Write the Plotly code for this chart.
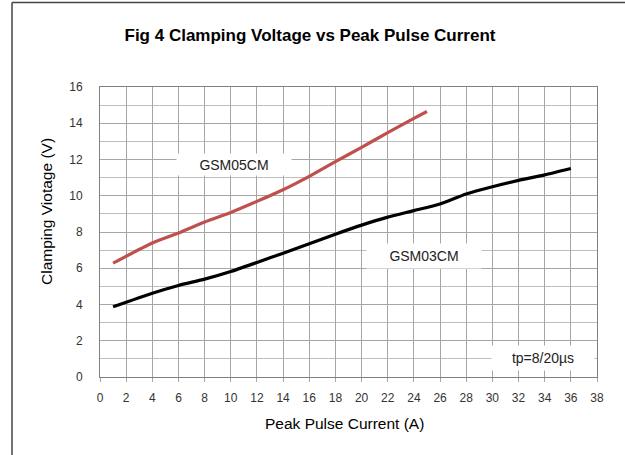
import plotly.graph_objects as go

# Data
gsm03_x = [1, 4, 6, 8, 10, 12, 14, 16, 18, 20, 22, 24, 26, 28, 30, 32, 34, 36]
gsm03_y = [3.87, 4.62, 5.05, 5.4, 5.82, 6.32, 6.83, 7.35, 7.88, 8.38, 8.82, 9.18, 9.55, 10.1, 10.5, 10.85, 11.15, 11.5]

gsm05_x = [1, 4, 6, 8, 10, 12, 14, 16, 18, 20, 22, 24, 25]
gsm05_y = [6.28, 7.39, 7.94, 8.55, 9.08, 9.69, 10.33, 11.07, 11.88, 12.67, 13.48, 14.27, 14.65]

x_ticks = list(range(0, 39, 2))
y_ticks = list(range(0, 17, 2))

FONT = "Liberation Sans, Arial, sans-serif"

fig = go.Figure()
fig.add_trace(go.Scatter(x=gsm05_x, y=gsm05_y, mode="lines", name="GSM05CM",
                         line=dict(color="#c0504d", width=3.2, shape="spline", smoothing=0.6)))
fig.add_trace(go.Scatter(x=gsm03_x, y=gsm03_y, mode="lines", name="GSM03CM",
                         line=dict(color="#000000", width=3.2, shape="spline", smoothing=0.6)))

W, H = 625, 455
# plot area in page pixels: x 100..597, y 87..377 (body margin removed via post_script)
PL, PR, PT, PB = 100, 597, 87, 377

fig.update_layout(
    width=W, height=H,
    margin=dict(l=PL, r=W - PR, t=PT, b=H - PB),
    paper_bgcolor="white", plot_bgcolor="white",
    showlegend=False,
    font=dict(family=FONT, color="#222"),
    title=dict(text="<b>Fig 4 Clamping Voltage vs Peak Pulse Current</b>",
               x=310 / W, xref="container", xanchor="center",
               y=1 - 35 / H, yref="container", yanchor="middle",
               font=dict(size=17, color="#000", family=FONT)),
)

fig.update_xaxes(range=[0, 38], tickvals=x_ticks, ticktext=[str(v) for v in x_ticks],
                 showgrid=True, gridcolor="#a6a6a6", gridwidth=1,
                 showline=True, linecolor="#808080", linewidth=1, mirror=True,
                 ticks="outside", ticklen=4, tickcolor="#a6a6a6",
                 ticklabelstandoff=6,
                 tickfont=dict(size=12, color="#333"), zeroline=False,
                 title=dict(text=""))
fig.update_yaxes(range=[0, 16], tickvals=y_ticks, ticktext=[str(v) for v in y_ticks],
                 showgrid=True, gridcolor="#a6a6a6", gridwidth=1,
                 minor=dict(dtick=1, showgrid=True, gridcolor="#bdbdbd", gridwidth=1),
                 showline=True, linecolor="#808080", linewidth=1, mirror=True,
                 ticks="", ticklabelstandoff=14,
                 tickfont=dict(size=12, color="#333"), zeroline=False,
                 title=dict(text=""))

def xp(px):
    return (px - PL) / (PR - PL)

def yp(py):
    return (PB - py) / (PB - PT)

annos = [
    dict(text="GSM05CM", x=10.25, y=11.7, width=112, height=19),
    dict(text="GSM03CM", x=24.8, y=6.7, width=112, height=22),
    dict(text="tp=8/20\u00b5s", x=33.9, y=1.07, width=100, height=22),
]
for a in annos:
    fig.add_annotation(text=a["text"], x=a["x"], y=a["y"], xref="x", yref="y",
                       showarrow=False, bgcolor="white", width=a["width"], height=a["height"],
                       font=dict(size=14, color="#222", family=FONT))

fig.add_annotation(text="Peak Pulse Current (A)", x=xp(344.5), y=yp(423), xref="paper", yref="paper",
                   showarrow=False, xanchor="center", yanchor="middle",
                   font=dict(size=15.5, color="#000", family=FONT))
fig.add_annotation(text="Clamping Viotage (V)", x=xp(46), y=yp(212), xref="paper", yref="paper",
                   showarrow=False, textangle=-90, xanchor="center", yanchor="middle",
                   font=dict(size=15.5, color="#000", family=FONT))

# outer frame (top and left edges)
fig.add_shape(type="line", xref="paper", yref="paper", x0=xp(12), x1=xp(640), y0=yp(2.5), y1=yp(2.5),
              line=dict(color="#444", width=1.5))
fig.add_shape(type="line", xref="paper", yref="paper", x0=xp(12), x1=xp(12), y0=yp(2.5), y1=yp(470),
              line=dict(color="#444", width=1.5))

fig.write_html("out.html", config={"displayModeBar": False},
               post_script="document.body.style.margin='0';")
